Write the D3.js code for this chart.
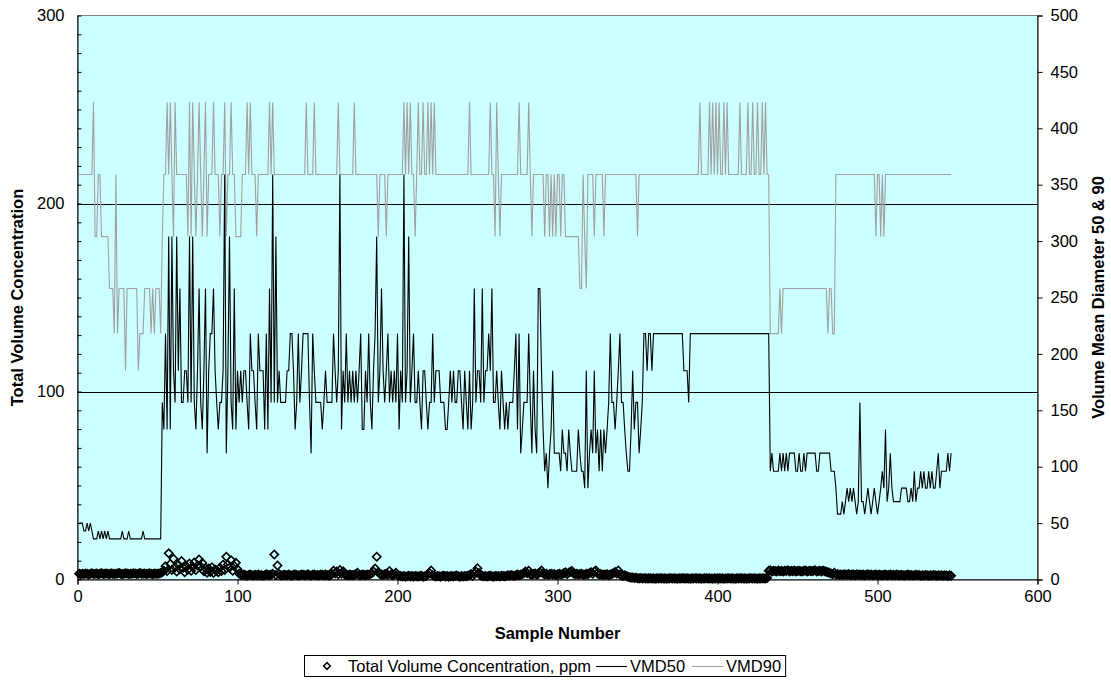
<!DOCTYPE html>
<html><head><meta charset="utf-8">
<script src="https://cdn.jsdelivr.net/npm/d3@7"></script>
<style>
html,body{margin:0;padding:0;background:#fff;}
svg{display:block;font-family:"Liberation Sans",Arial,sans-serif;}
</style></head>
<body>
<svg id="chart" width="1111" height="687"></svg>
<script>
// ---------- DATA (sample numbers start at 1) ----------
const leftTicks = [0, 100, 200, 300];
const rightTicks = [0, 50, 100, 150, 200, 250, 300, 350, 400, 450, 500];
const xTicks = [0, 100, 200, 300, 400, 500, 600];
const seriesNames = ["Total Volume Concentration, ppm", "VMD50", "VMD90"];

// Total Volume Concentration, ppm (left axis)
const tvc = [
3.0,2.8,3.1,2.9,3.2,3.0,2.7,3.1,3.3,2.9,
3.0,3.2,2.8,3.1,3.4,2.9,3.0,3.2,3.1,2.8,
3.3,3.0,2.9,3.1,3.2,3.4,3.0,2.8,3.1,3.3,
3.2,2.9,3.0,3.1,3.3,3.2,2.9,3.0,3.4,3.1,
3.0,3.2,2.9,3.1,3.3,3.0,2.8,3.2,3.1,3.0,
3.2,3.4,3.9,4.6,7.1,4.5,13.9,8.2,5.0,11.0,
6.5,4.2,7.8,5.5,9.8,6.2,3.8,7.0,5.2,8.5,
4.6,6.8,9.0,5.0,7.4,10.7,6.9,8.8,4.4,6.0,
3.6,5.8,4.0,6.5,3.5,5.2,4.8,3.9,6.2,4.5,
7.9,5.1,12.1,8.0,6.3,10.2,4.7,7.2,8.9,5.4,
3.2,2.5,2.2,2.6,2.3,2.0,2.4,2.7,2.2,2.1,
2.5,2.3,2.6,2.2,2.4,2.0,2.3,2.8,2.5,2.2,
2.6,3.0,13.3,2.4,7.5,2.9,2.3,2.1,2.5,2.4,
2.2,2.6,2.3,2.0,2.5,2.7,2.4,2.1,2.3,2.6,
2.5,2.2,2.4,2.8,2.3,2.1,2.5,2.6,2.2,2.4,
2.3,2.7,2.5,2.2,2.6,2.4,2.1,2.3,2.9,4.6,
3.2,4.2,2.8,5.1,3.0,4.4,2.7,2.5,2.3,2.6,
2.4,2.2,2.5,2.8,3.6,2.4,2.2,2.6,2.5,2.3,
2.7,2.4,2.9,3.3,4.2,5.8,12.1,3.8,2.9,2.6,
2.4,2.8,3.1,2.5,4.5,2.7,2.3,2.6,3.6,2.4,
2.0,1.8,1.6,1.9,1.5,1.7,2.0,1.6,1.8,1.5,
1.9,1.7,1.6,1.8,2.0,1.5,1.7,1.9,2.6,3.5,
4.8,2.2,1.8,1.6,1.9,1.7,1.5,1.8,2.0,1.6,
1.8,1.5,1.7,1.9,1.6,1.8,2.1,1.7,1.5,1.9,
1.6,1.8,1.7,2.0,2.4,2.9,1.9,3.2,4.2,6.0,
3.5,2.1,1.8,1.7,1.9,1.6,1.8,2.0,1.7,1.5,
1.9,1.7,1.8,1.6,2.0,1.8,1.7,1.9,2.2,2.0,
2.4,2.1,1.9,2.3,2.6,2.2,2.5,2.8,3.4,4.2,
3.3,4.6,2.8,2.5,2.9,3.2,2.6,3.0,3.8,4.8,
3.2,2.7,3.0,2.5,2.8,3.1,2.6,2.9,2.4,2.7,
3.0,2.6,2.8,3.3,3.9,2.9,3.6,4.1,4.5,3.2,
2.8,3.0,2.6,2.9,3.1,2.7,2.5,3.0,2.8,3.4,
3.8,3.1,4.2,4.8,3.3,2.6,2.9,2.4,2.7,2.5,
2.8,2.3,2.6,2.9,3.5,4.0,3.2,4.8,2.6,2.2,
1.9,2.3,1.8,1.5,1.2,1.0,1.1,0.8,0.9,0.7,
0.6,0.8,0.5,0.7,0.6,0.5,0.6,0.7,0.5,0.6,
0.4,0.6,0.5,0.7,0.6,0.5,0.6,0.4,0.5,0.6,
0.7,0.5,0.6,0.5,0.4,0.6,0.5,0.7,0.6,0.5,
0.6,0.5,0.4,0.6,0.5,0.7,0.6,0.5,0.6,0.4,
0.5,0.6,0.7,0.5,0.6,0.5,0.4,0.6,0.5,0.7,
0.6,0.5,0.6,0.4,0.5,0.6,0.7,0.5,0.6,0.5,
0.4,0.6,0.5,0.7,0.6,0.5,0.6,0.4,0.5,0.6,
0.7,0.5,0.6,0.5,0.4,0.6,0.5,0.7,0.6,0.5,
0.8,4.6,4.9,4.3,4.7,4.5,4.2,4.8,4.4,4.6,
4.3,4.7,4.5,4.9,4.2,4.6,4.4,4.8,4.3,4.5,
4.7,4.4,4.2,4.6,4.8,4.3,4.5,4.7,4.4,4.6,
4.9,4.3,4.5,4.6,4.2,4.8,4.4,4.1,3.9,3.6,
3.2,2.8,3.6,2.6,2.9,2.5,2.7,2.4,2.8,2.6,
2.5,2.9,2.4,2.7,2.6,2.3,2.8,2.5,2.7,2.4,
2.6,2.3,2.5,2.8,2.4,2.6,2.2,2.5,2.7,2.3,
2.6,2.4,2.2,2.5,2.7,2.3,2.4,2.6,2.2,2.5,
2.3,2.6,2.4,2.2,2.5,2.3,2.1,2.4,2.6,2.2,
2.4,2.1,2.3,2.5,2.2,2.4,2.0,2.3,2.1,2.4,
2.2,2.0,2.3,2.1,2.4,2.2,2.0,2.3,2.1,2.2,
2.0,2.2,2.1,1.9,2.2,2.0
];

// VMD50 (right axis)
const vmd50 = [
50,50,50,43,43,50,43,50,43,36,
36,36,43,36,43,36,43,36,43,36,
36,36,36,36,36,36,36,43,36,36,
36,43,36,36,36,36,36,36,36,36,
43,36,36,36,36,36,36,36,36,36,
36,36,157,133,218,133,304,133,304,185,
157,304,185,258,157,157,185,185,157,304,
157,304,157,133,185,258,157,133,185,258,
112,185,218,218,258,185,157,133,157,157,
185,359,112,185,304,157,133,258,133,185,
157,185,157,185,185,157,133,218,185,185,
157,133,218,185,185,185,133,218,133,258,
157,359,157,304,157,185,157,157,157,157,
185,185,218,218,185,133,157,218,157,185,
218,218,218,218,157,112,218,185,157,157,
157,157,133,157,185,157,157,157,157,218,
185,157,185,359,133,185,157,218,157,185,
157,185,157,185,157,185,218,133,133,185,
157,218,157,133,185,218,304,157,185,258,
185,157,185,218,157,185,157,185,157,218,
133,185,157,359,157,185,304,157,185,218,
157,157,185,157,133,185,185,157,133,157,
157,218,157,185,185,185,157,157,157,133,
133,157,185,157,185,157,157,185,185,157,
133,185,157,133,185,133,157,258,157,185,
185,157,258,157,185,185,218,185,258,157,
157,185,157,133,185,157,133,157,133,157,
157,157,185,218,133,218,112,133,157,157,
157,218,157,112,185,133,112,258,258,185,
133,96,112,81,112,133,185,112,112,112,
112,96,133,112,112,96,133,112,96,96,
96,96,133,112,96,96,81,185,81,112,
133,112,185,112,133,96,133,96,133,112,
133,157,218,157,157,133,157,185,218,157,
157,133,112,96,96,133,185,133,157,157,
112,133,157,218,218,185,218,218,185,218,
218,218,218,218,218,218,218,218,218,218,
218,218,218,218,218,218,218,218,185,185,
185,157,218,218,218,218,218,218,218,218,
218,218,218,218,218,218,218,218,218,218,
218,218,218,218,218,218,218,218,218,218,
218,218,218,218,218,218,218,218,218,218,
218,218,218,218,218,218,218,218,218,218,
218,218,96,112,96,96,96,96,112,96,
112,96,112,96,112,112,112,112,96,96,
112,96,96,112,96,112,112,112,112,112,
112,96,96,112,112,112,112,112,112,112,
96,96,96,81,58,58,58,69,58,69,
81,69,81,69,81,69,58,69,157,69,
69,58,69,81,69,58,69,81,69,58,
69,81,96,81,133,69,81,112,81,69,
69,69,69,69,81,81,81,81,69,69,
81,69,96,69,81,81,96,81,96,81,
81,96,81,96,81,81,96,112,81,96,
96,96,96,112,96,112
];

// VMD90 (right axis)
const vmd90 = [
359,359,359,359,359,359,359,359,359,423,
304,304,359,359,304,304,304,304,304,258,
258,258,218,359,218,258,258,258,258,185,
258,258,258,258,258,258,258,185,218,218,
218,258,258,258,258,218,258,218,258,258,
258,218,304,359,359,423,359,423,359,304,
423,359,359,359,359,359,359,359,304,423,
304,423,359,304,359,423,359,304,359,423,
304,359,359,359,423,359,359,359,304,359,
359,423,304,359,359,423,359,359,304,304,
304,304,359,359,359,423,359,423,359,359,
359,304,359,359,359,359,359,359,359,423,
359,423,359,359,359,359,359,359,359,359,
359,359,359,359,359,359,359,359,359,359,
359,359,423,359,359,359,359,423,359,359,
359,359,359,359,359,359,359,359,359,359,
359,359,423,359,359,359,359,359,359,359,
359,359,423,359,359,359,359,359,359,359,
359,359,359,359,359,359,359,304,359,359,
359,359,304,359,359,359,359,359,359,359,
359,359,359,423,359,423,359,423,359,359,
304,359,423,359,359,423,359,359,423,359,
423,359,423,359,359,359,359,359,359,359,
359,359,359,359,359,359,359,359,359,359,
359,359,359,359,423,359,359,359,359,359,
359,359,359,359,359,359,359,423,359,359,
304,423,359,304,359,359,359,359,359,359,
359,359,359,359,359,423,359,359,359,359,
359,423,359,304,359,359,359,359,359,359,
359,304,359,359,304,359,304,359,304,359,
359,304,359,359,304,304,304,304,304,304,
304,304,304,258,258,359,304,258,359,359,
359,359,304,359,359,359,359,359,304,359,
359,359,359,359,359,359,359,359,359,359,
359,359,359,359,359,359,359,359,359,304,
359,359,359,359,359,359,359,359,359,359,
359,359,359,359,359,359,359,359,359,359,
359,359,359,359,359,359,359,359,359,359,
359,359,359,359,359,359,359,359,423,359,
359,359,359,359,423,359,423,359,423,359,
423,359,359,423,359,423,359,359,359,359,
359,359,359,423,359,359,359,359,423,359,
359,423,359,359,423,359,359,423,359,423,
359,359,218,218,218,218,218,218,258,218,
258,258,258,258,258,258,258,258,258,258,
258,258,258,258,258,258,258,258,258,258,
258,258,258,258,258,258,258,258,218,258,
258,218,218,359,359,359,359,359,359,359,
359,359,359,359,359,359,359,359,359,359,
359,359,359,359,359,359,359,359,304,359,
359,304,359,304,359,359,359,359,359,359,
359,359,359,359,359,359,359,359,359,359,
359,359,359,359,359,359,359,359,359,359,
359,359,359,359,359,359,359,359,359,359,
359,359,359,359,359,359
];

// ---------- LAYOUT ----------
const W = 1111, H = 687;
const plot = {left: 77.5, right: 1037.5, top: 15.5, bottom: 579.5};
const FONT = '"Liberation Sans", Arial, sans-serif';
const FS = 16.5;

const svg = d3.select("#chart");
svg.append("rect").attr("width", W).attr("height", H).attr("fill", "#fff");

const x = d3.scaleLinear().domain([0, 600]).range([plot.left, plot.right]);
const yL = d3.scaleLinear().domain([0, 300]).range([plot.bottom, plot.top]);
const yR = d3.scaleLinear().domain([0, 500]).range([plot.bottom, plot.top]);

// plot area
svg.append("rect")
  .attr("x", plot.left).attr("y", plot.top)
  .attr("width", plot.right - plot.left).attr("height", plot.bottom - plot.top)
  .attr("fill", "#CCFFFF").attr("stroke", "#808080").attr("stroke-width", 1);

// gridlines (left axis majors)
svg.append("g").selectAll("line")
  .data(leftTicks.filter(d => d > 0 && d < 300))
  .join("line")
  .attr("x1", plot.left).attr("x2", plot.right)
  .attr("y1", d => Math.round(yL(d)) + 0.5).attr("y2", d => Math.round(yL(d)) + 0.5)
  .attr("stroke", "#000").attr("stroke-width", 1);

// left axis
const gL = svg.append("g").attr("transform", `translate(${plot.left},0)`)
  .call(d3.axisLeft(yL).tickValues(leftTicks).tickSize(0).tickPadding(13).tickFormat(d3.format("d")));
gL.select(".domain").attr("stroke", "#000");
gL.selectAll("text").attr("font-size", FS).attr("font-family", FONT).attr("fill", "#000");
// left minor ticks (inside)
svg.append("g").attr("transform", `translate(${plot.left},0)`)
  .call(d3.axisRight(yL).ticks(30).tickSize(4).tickFormat(""))
  .call(g => g.select(".domain").remove())
  .selectAll("line").attr("stroke", "#000");

// right axis
const gR = svg.append("g").attr("transform", `translate(${plot.right},0)`)
  .call(d3.axisRight(yR).tickValues(rightTicks).tickSize(5).tickPadding(8).tickFormat(d3.format("d")));
gR.select(".domain").attr("stroke", "#000");
gR.selectAll("line").attr("stroke", "#000");
gR.selectAll("text").attr("font-size", FS).attr("font-family", FONT).attr("fill", "#000");

// bottom axis
const gX = svg.append("g").attr("transform", `translate(0,${plot.bottom})`)
  .call(d3.axisBottom(x).tickValues(xTicks).tickSize(5).tickPadding(6).tickFormat(d3.format("d")));
gX.select(".domain").attr("stroke", "#000");
gX.selectAll("line").attr("stroke", "#000");
gX.selectAll("text").attr("font-size", FS).attr("font-family", FONT).attr("fill", "#000");

// series
const line = yScale => d3.line().x((d, i) => x(i + 1)).y(d => yScale(d));

svg.append("path").datum(vmd90)
  .attr("d", line(yR)).attr("fill", "none")
  .attr("stroke", "#A0A0A0").attr("stroke-width", 1.1);

svg.append("path").datum(vmd50)
  .attr("d", line(yR)).attr("fill", "none")
  .attr("stroke", "#000").attr("stroke-width", 1.1);

const diamond = d3.symbol().type(d3.symbolSquare).size(34);
svg.append("g").selectAll("path")
  .data(tvc)
  .join("path")
  .attr("d", diamond)
  .attr("transform", (d, i) => `translate(${x(i + 1)},${yL(d)}) rotate(45)`)
  .attr("fill", "none").attr("stroke", "#000").attr("stroke-width", 1.6);

// axis titles
svg.append("text").attr("x", (plot.left + plot.right) / 2).attr("y", 639)
  .attr("text-anchor", "middle").attr("font-size", FS).attr("font-weight", "bold")
  .attr("font-family", FONT).text("Sample Number");

svg.append("text")
  .attr("transform", `translate(23,${(plot.top + plot.bottom) / 2}) rotate(-90)`)
  .attr("text-anchor", "middle").attr("font-size", FS).attr("font-weight", "bold")
  .attr("font-family", FONT).text("Total Volume Concentration");

svg.append("text")
  .attr("transform", `translate(1104,${(plot.top + plot.bottom) / 2}) rotate(-90)`)
  .attr("text-anchor", "middle").attr("font-size", FS).attr("font-weight", "bold")
  .attr("font-family", FONT).text("Volume Mean Diameter 50 & 90");

// legend
const lg = svg.append("g");
const lgBox = lg.append("rect").attr("y", 655.5).attr("height", 21)
  .attr("fill", "#fff").attr("stroke", "#000").attr("stroke-width", 1);
let cx = 0;
const items = lg.append("g");
items.append("path").attr("d", d3.symbol().type(d3.symbolSquare).size(22))
  .attr("transform", `translate(${cx + 23},666) rotate(45)`)
  .attr("fill", "none").attr("stroke", "#000").attr("stroke-width", 1.5);
const t1 = items.append("text").attr("x", cx + 44).attr("y", 671.5)
  .attr("font-size", FS).attr("font-family", FONT).text(seriesNames[0]);
cx = 44 + t1.node().getComputedTextLength() + 5;
items.append("line").attr("x1", cx).attr("x2", cx + 31).attr("y1", 666.5).attr("y2", 666.5)
  .attr("stroke", "#000").attr("stroke-width", 1.1);
const t2 = items.append("text").attr("x", cx + 34).attr("y", 671.5)
  .attr("font-size", FS).attr("font-family", FONT).text(seriesNames[1]);
cx = cx + 34 + t2.node().getComputedTextLength() + 7;
items.append("line").attr("x1", cx).attr("x2", cx + 31).attr("y1", 666.5).attr("y2", 666.5)
  .attr("stroke", "#A0A0A0").attr("stroke-width", 1.1);
const t3 = items.append("text").attr("x", cx + 34).attr("y", 671.5)
  .attr("font-size", FS).attr("font-family", FONT).text(seriesNames[2]);
const totalW = cx + 34 + t3.node().getComputedTextLength() + 4;
const lx = 304;
items.attr("transform", `translate(${lx},0)`);
lgBox.attr("x", lx + 0.5).attr("width", totalW);
</script>
</body></html>
